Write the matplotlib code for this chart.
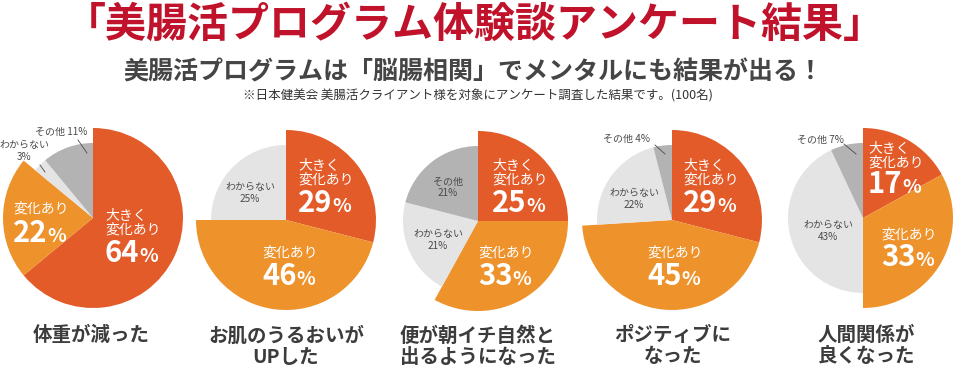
import numpy as np
import matplotlib
matplotlib.use("Agg")
import matplotlib.pyplot as plt

plt.rcParams['font.family'] = ['Noto Sans CJK JP', 'DejaVu Sans']

# data
categories = ['大きく\n変化あり', '変化あり', 'わからない', 'その他']
big_change = [64, 29, 25, 29, 17]
change = [22, 46, 33, 45, 33]
unknown = [3, 25, 21, 22, 43]
other = [11, 0, 21, 4, 7]
questions = ['体重が減った', 'お肌のうるおいが\nUPした', '便が朝イチ自然と\n出るようになった',
             'ポジティブに\nなった', '人間関係が\n良くなった']

title = '「美腸活プログラム体験談アンケート結果」'
subtitle = '美腸活プログラムは「脳腸相関」でメンタルにも結果が出る！'
note = '※日本健美会 美腸活クライアント様を対象にアンケート調査した結果です。(100名)'

colors = ['#E35B29', '#EE922C', '#E4E4E4', '#B3B3B3']
W, H = 954, 370

# layout (pixel coords, y measured from top)
centers = [(93, 218), (286, 220), (478, 221), (672, 220), (863, 218)]
r_big = 90
r_small = 75
red_pos = [(105, 209, 262), (298, 159, 212), (492, 159, 212), (683, 159, 212), (868, 142, 193)]
org_pos = [(13, 202, 242), (262, 246, 285), (478, 246, 285), (647, 246, 285), (881, 228, 266)]
# (x, y, ha, leader line or None)
unk_pos = [(24, 151, 'center', ((40, 165), (45, 172))), (250, 193, 'center', None),
           (438, 240, 'center', None), (634, 199, 'center', None), (828, 231, 'center', None)]
oth_pos = [(35, 132, 'left', ((78, 140), (87, 153))), None, (448, 187, 'center', None),
           (603, 139, 'left', ((655, 145), (665, 154))), (797, 140, 'left', ((844, 144), (856, 154)))]
q_x = [91, 286, 478, 673, 866]

fig = plt.figure(figsize=(W / 100, H / 100), dpi=100)
ax = fig.add_axes([0, 0, 1, 1])

def Y(y):
    return H - y

def big_label(x, y_top, y_num, txt, val):
    ax.text(x, Y(y_top), txt, color='white', fontsize=10, ha='left', va='top', linespacing=1.0)
    t = ax.text(x, Y(y_num), str(val), color='white', fontsize=21, fontweight='bold',
                ha='left', va='baseline')
    ax.annotate('%', xy=(1, Y(y_num)), xycoords=(t, 'data'), color='white', fontsize=14,
                fontweight='bold', ha='left', va='baseline')

def small_label(pos, txt, val):
    x, y, ha, line = pos
    sep = '\n' if ha == 'center' else ' '
    ax.text(x, Y(y), txt + sep + str(val) + '%', color='#4a4a4a', fontsize=7.2, ha=ha,
            va='center', linespacing=1.15)
    if line is not None:
        (x0, y0), (x1, y1) = line
        ax.plot([x0, x1], [Y(y0), Y(y1)], color='#4a4a4a', lw=0.6)

for i in range(5):
    vals = [big_change[i], change[i], unknown[i], other[i]]
    cx, cy = centers[i]
    wedges, _ = ax.pie(vals, colors=colors, startangle=90, counterclock=False,
                       radius=r_big, center=(cx, Y(cy)), wedgeprops=dict(linewidth=0))
    for w in wedges[2:]:
        w.set_radius(r_small)
    big_label(red_pos[i][0], red_pos[i][1], red_pos[i][2], categories[0], big_change[i])
    big_label(org_pos[i][0], org_pos[i][1], org_pos[i][2], categories[1], change[i])
    small_label(unk_pos[i], categories[2], unknown[i])
    if oth_pos[i] is not None:
        small_label(oth_pos[i], categories[3], other[i])
    ax.text(q_x[i], Y(326), questions[i], color='#3c3c3c', fontsize=14, fontweight='bold',
            ha='center', va='top', linespacing=1.15)

ax.text(475, Y(25), title, color='#C0132B', fontsize=29.5, fontweight='bold', ha='center', va='center')
ax.text(473, Y(72), subtitle, color='#454545', fontsize=18, fontweight='bold', ha='center', va='center')
ax.text(478, Y(96), note, color='#333333', fontsize=9, ha='center', va='center')

ax.set_xlim(0, W)
ax.set_ylim(0, H)
ax.set_aspect('equal')
ax.axis('off')

fig.savefig('out.png', dpi=100, facecolor='white')
